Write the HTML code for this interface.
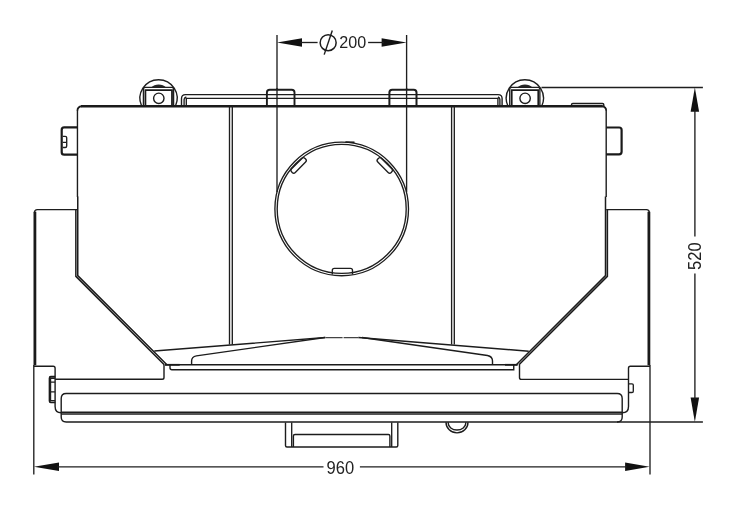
<!DOCTYPE html>
<html><head><meta charset="utf-8">
<style>
html,body{margin:0;padding:0;background:#fff;width:741px;height:516px;overflow:hidden}
svg{display:block;will-change:transform}
.t{fill:none;stroke:#1e1e1e;stroke-width:1.35}
.m{fill:none;stroke:#1c1c1c;stroke-width:1.4}
.k{fill:none;stroke:#1a1a1a;stroke-width:2.6}
.f{fill:#111;stroke:none}
text{font-family:"Liberation Sans",sans-serif;font-size:17.2px;fill:#222}
</style></head>
<body>
<svg width="741" height="516" viewBox="0 0 741 516">
<!-- ===== Dimension Ø200 ===== -->
<line class="t" x1="277" y1="35" x2="277" y2="192"/>
<line class="t" x1="406.6" y1="35" x2="406.6" y2="192"/>
<path class="f" d="M277,42.5 L302,38.2 L302,46.8 Z"/>
<path class="f" d="M406.6,42.5 L381.6,38.2 L381.6,46.8 Z"/>
<line class="t" x1="300" y1="42.5" x2="317.6" y2="42.5"/>
<line class="t" x1="368.1" y1="42.5" x2="384" y2="42.5"/>
<circle class="m" cx="328.15" cy="42.7" r="8.0" style="stroke-width:1.5"/>
<line class="m" x1="332.3" y1="30.5" x2="324.2" y2="54.6" style="stroke-width:1.4"/>
<text x="339.3" y="48.3" textLength="26.9" lengthAdjust="spacingAndGlyphs">200</text>

<!-- ===== Dimension 960 ===== -->
<line class="t" x1="33.8" y1="365" x2="33.8" y2="474.5"/>
<line class="t" x1="650" y1="365" x2="650" y2="474.5"/>
<path class="f" d="M33.9,466.8 L59,462.6 L59,471 Z"/>
<path class="f" d="M649.6,466.8 L625.1,462.6 L625.1,471 Z"/>
<line class="t" x1="57" y1="466.8" x2="323.5" y2="466.8"/>
<line class="t" x1="359.9" y1="466.8" x2="627" y2="466.8"/>
<text x="326.5" y="474" textLength="27.6" lengthAdjust="spacingAndGlyphs" style="font-size:17.7px">960</text>

<!-- ===== Dimension 520 ===== -->
<line class="t" x1="541.5" y1="87.5" x2="702.9" y2="87.5"/>
<line class="t" x1="617" y1="422" x2="702.9" y2="422"/>
<path class="f" d="M694.85,87.6 L690.6,111.8 L699.1,111.8 Z"/>
<path class="f" d="M694.85,422.1 L690.6,397.4 L699.1,397.4 Z"/>
<line class="t" x1="694.9" y1="110" x2="694.9" y2="236.5"/>
<line class="t" x1="694.9" y1="273.5" x2="694.9" y2="399"/>
<text transform="translate(701.2,269.9) rotate(-90)" textLength="27.5" lengthAdjust="spacingAndGlyphs" style="font-size:17.7px">520</text>

<!-- ===== Top rail ===== -->
<path class="m" d="M181.5,106 L181.5,98.6 Q181.5,94.6 185.5,94.6 L498.1,94.6 Q502.1,94.6 502.1,98.6 L502.1,106"/>
<path class="t" d="M184.1,106 L184.1,99.5 Q184.1,97.6 186.3,97 M499.9,106 L499.9,99.5 Q499.9,97.6 497.9,97 M186.3,106 L186.3,98.3 L497.9,98.3 L497.9,106"/>
<!-- rail tabs -->
<path class="m" d="M266.9,106 L266.9,92.6 Q266.9,89.8 269.7,89.8 L291.7,89.8 Q294.5,89.8 294.5,92.6 L294.5,106" style="stroke-width:1.9;fill:#fff"/>
<path class="t" d="M266.9,94.6 L294.5,94.6 M266.9,98.3 L294.5,98.3"/>
<path class="m" d="M389.4,106 L389.4,92.6 Q389.4,89.8 392.2,89.8 L413.7,89.8 Q416.5,89.8 416.5,92.6 L416.5,106" style="stroke-width:2;fill:#fff"/>
<path class="t" d="M389.4,94.6 L416.5,94.6 M389.4,98.3 L416.5,98.3"/>
<line class="t" x1="277" y1="88" x2="277" y2="106"/>
<line class="t" x1="406.6" y1="88" x2="406.6" y2="106"/>

<!-- ===== Pulleys ===== -->
<g id="pl">
<path class="t" d="M141.62,106 A18.6,18.6 0 1 1 175.48,106" style="stroke-width:1.4"/>
<path style="fill:#262626" d="M151,87.6 A10.86,10.86 0 0 1 166.3,87.6 Z"/>
<path class="t" d="M143.4,106 L143.4,89.4 Q143.4,87.4 145.4,87.4 L171.6,87.4 Q173.6,87.4 173.6,89.4 L173.6,106" style="stroke-width:1.3"/>
<path class="k" d="M145.4,106 L145.4,90.2 L172.0,90.2 L172.0,106" style="stroke-width:1.8"/>
<circle class="m" cx="158.8" cy="98.3" r="5.2"/>
</g>
<use href="#pl" transform="translate(366.3,0)"/>
<!-- small top plate right -->
<path class="m" d="M571.5,106 L571.5,104.8 Q571.5,103.5 572.8,103.5 L602.5,103.5 Q603.8,103.5 603.8,104.8 L603.8,106"/>

<!-- ===== Body ===== -->
<path class="k" d="M81,106.25 L602.6,106.25" style="stroke-width:2.6"/>
<path class="m" d="M77.45,110.5 Q77.45,106.7 81.8,106.1 M606.2,110.5 Q606.2,106.7 601.8,106.1" style="stroke-width:1.8"/>
<line class="m" x1="77.45" y1="110" x2="77.45" y2="197"/>
<line class="m" x1="606.2" y1="110" x2="606.2" y2="197"/>
<path class="m" d="M77.75,196.5 L77.75,275.6 L166.95,364.8 M75.85,209.6 L75.85,276.4 L164.25,364.8" style="stroke-width:1.5;stroke-linejoin:miter"/>
<path class="m" d="M605.5,196.5 L605.5,275.6 L516.3,364.8 M607.4,209.6 L607.4,276.4 L519.0,364.8" style="stroke-width:1.5;stroke-linejoin:miter"/>

<!-- side tabs -->
<path class="k" d="M77.4,127.4 L64.2,127.4 Q61.7,127.4 61.7,129.9 L61.7,152.2 Q61.7,154.7 64.2,154.7 L77.4,154.7" style="stroke-width:2.2"/>
<path class="t" d="M62.8,136.3 L65.2,136.3 Q66.7,136.3 66.7,137.8 L66.7,146 Q66.7,147.5 65.2,147.5 L62.8,147.5 M62.8,142.3 L66.7,142.3"/>
<path class="k" d="M606.2,127.5 L619.1,127.5 Q621.6,127.5 621.6,130 L621.6,151.8 Q621.6,154.3 619.1,154.3 L606.2,154.3" style="stroke-width:2.2"/>

<!-- side boxes -->
<path class="k" d="M34.9,365.3 L34.9,211.8" style="stroke-width:2.8"/>
<path class="t" d="M34.5,212.5 Q34.5,209.6 37.4,209.6 L77.4,209.6" style="stroke-width:1.4"/>

<path class="m" d="M33.8,366.3 L53.2,366.3 Q55.1,366.3 55.1,368.2 L55.1,406.5 Q55.1,412.8 61.2,412.8"/>
<path class="m" d="M55.1,379.2 L162.2,379.2 Q164,379.2 164,377.4 L164,364.5"/>
<path class="k" d="M648.9,365.3 L648.9,211.8" style="stroke-width:2.8"/>
<path class="t" d="M649.3,212.5 Q649.3,209.6 646.4,209.6 L606.2,209.6" style="stroke-width:1.4"/>
<path class="m" d="M650,366.3 L630.4,366.3 Q628.5,366.3 628.5,368.2 L628.5,406.5 Q628.5,412.8 622.2,412.8"/>
<path class="m" d="M628.5,379.4 L521.4,379.4 Q519.5,379.4 519.5,377.5 L519.5,364.5"/>
<path class="t" d="M628.5,383.8 L632,383.8 Q633.3,383.8 633.3,385.1 L633.3,391.2 Q633.3,392.5 632,392.5 L628.5,392.5"/>

<!-- bolt left -->
<path class="k" d="M55.3,376.8 L50.8,376.8 Q49.6,376.8 49.6,378.3 L49.6,401 Q49.6,402.4 50.8,402.4 L55.3,402.4" style="stroke-width:1.9"/>
<path class="t" d="M50.6,378 L50.6,401 M50.6,378.4 L55.1,378.4 M50.6,382.2 L55.1,382.2 M50.6,391.9 L55.1,391.9 M50.6,400.5 L55.1,400.5" style="stroke-width:1.2"/>

<!-- ===== bottom center ===== -->
<line class="m" x1="165" y1="364.8" x2="517.5" y2="364.8"/>
<line class="k" x1="165" y1="364.8" x2="179.7" y2="364.8" style="stroke-width:1.8"/>
<line class="k" x1="505" y1="364.8" x2="517.5" y2="364.8" style="stroke-width:1.8"/>
<path class="m" d="M170,364.8 L170,367.7 Q170,369.7 172,369.7 L513.75,369.7 L513.75,364.8"/>
<path class="m" d="M154.3,351 L325.5,337.5 M358.3,337.5 L528.75,351.25"/>
<path d="M325.5,337.6 L342.6,337.6 M343.6,337.6 L358.3,337.6" style="fill:none;stroke:#444;stroke-width:1.05"/>
<path class="m" d="M191.6,364.8 L191.6,361 Q191.6,356.8 196.4,355.9 L325,337.5"/>
<path class="m" d="M362,337.5 L487.5,355.5 Q492.5,356.5 492.5,361 L492.5,364.8"/>

<!-- vertical double lines -->
<path class="t" d="M229.5,106 L229.5,344.5 M232.3,106 L232.3,344.4"/>
<path class="t" d="M451.6,106 L451.6,344.4 M454.3,106 L454.3,344.6"/>

<!-- ===== big circle ===== -->
<rect class="t" x="-9.5" y="-2.6" width="19" height="5.2" rx="2.2" transform="translate(298.6,165.4) rotate(-45)" style="fill:#fff"/>
<rect class="t" x="-9.5" y="-2.6" width="19" height="5.2" rx="2.2" transform="translate(384.8,165.4) rotate(45)" style="fill:#fff"/>
<path class="t" d="M332.3,274.5 L332.3,270.4 Q332.3,268.3 334.4,268.3 L350.4,268.3 Q352.5,268.3 352.5,270.4 L352.5,274.5" style="fill:#fff"/>
<circle class="t" cx="341.7" cy="208.9" r="66.8"/>
<circle class="t" cx="341.7" cy="208.9" r="64.5"/>
<path class="k" d="M345.4,142 L354.5,142.3" style="stroke-width:1.5"/>

<!-- ===== bottom rail ===== -->
<path class="m" d="M61.2,412 L61.2,398.5 Q61.2,393.5 66.2,393.5 L617.2,393.5 Q622.2,393.5 622.2,398.5 L622.2,417 Q622.2,422 617.2,422 L66.2,422 Q61.2,422 61.2,417 Z"/>
<line class="m" x1="61.2" y1="412.2" x2="622.2" y2="412.2" style="stroke-width:1.5"/>
<line class="m" x1="61.2" y1="413.9" x2="622.2" y2="413.9" style="stroke-width:1.5"/>

<!-- hanger -->
<path class="m" d="M285.5,422.5 L285.5,445.5 Q285.5,447 287,447 L396.3,447 Q397.8,447 397.8,445.5 L397.8,422.5"/>
<line class="t" x1="291.7" y1="422.5" x2="291.7" y2="447"/>
<line class="t" x1="391.7" y1="422.5" x2="391.7" y2="447"/>
<path class="m" d="M293.4,447 L293.4,436 Q293.4,434.5 295,434.5 L388.4,434.5 Q389.9,434.5 389.9,436 L389.9,447"/>
<!-- semicircle -->
<path class="m" d="M446,422.3 A11,10.6 0 0 0 468,422.3"/>
<path class="m" d="M448.2,422.3 L448.2,423 A8.8,7 0 0 0 465.8,423 L465.8,422.3"/>
</svg>
</body></html>
